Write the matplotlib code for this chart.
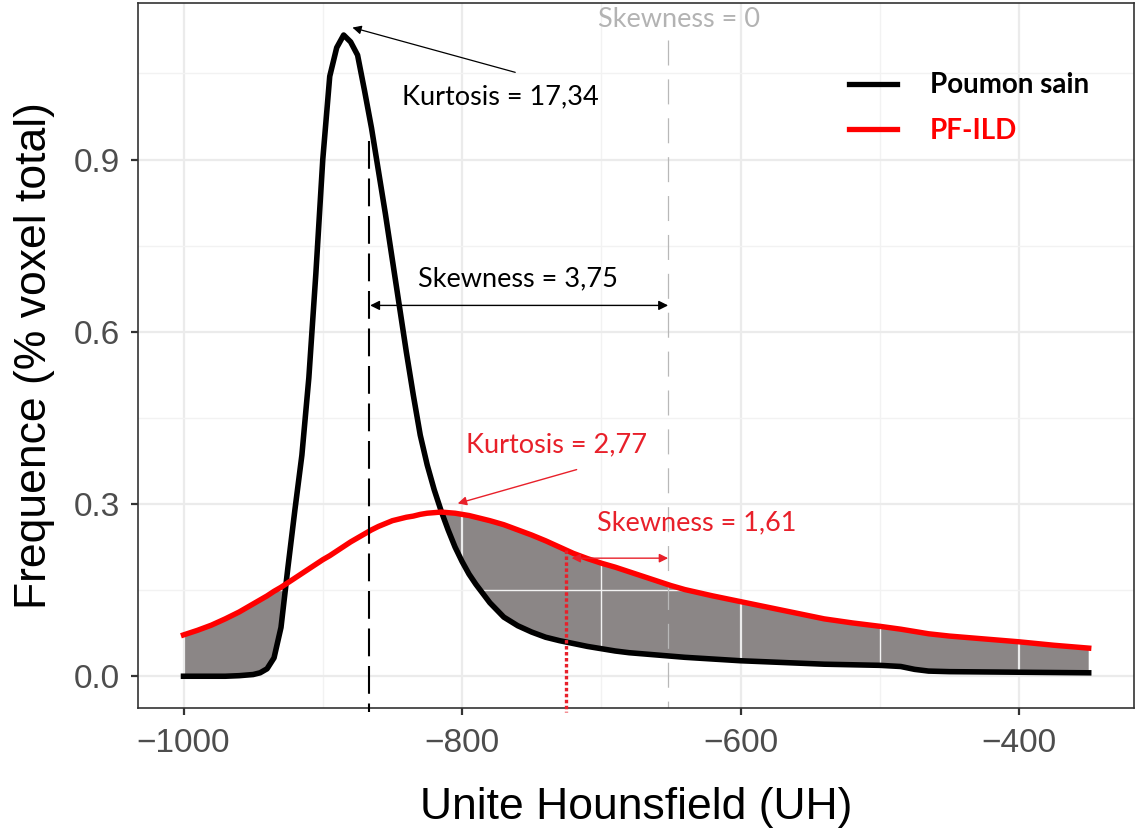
import numpy as np
import matplotlib.pyplot as plt
from matplotlib.lines import Line2D

plt.rcParams['lines.scale_dashes'] = False

# Unites Hounsfield (grille commune aux deux courbes)
hu = [-1000, -990, -980, -970, -960, -955, -950, -945, -940, -935,
      -930, -925, -920, -915, -910, -905, -900, -895, -890, -885,
      -880, -875, -870, -865, -860, -855, -850, -845, -840, -835,
      -830, -825, -820, -815, -810, -805, -800, -795, -790, -780,
      -770, -760, -750, -740, -730, -720, -710, -700, -690, -680,
      -670, -660, -650, -640, -620, -600, -580, -560, -540, -520,
      -500, -485, -475, -465, -450, -425, -400, -375, -350]

# frequence (% voxel total) - poumon sain
poumon_sain = [0.000, 0.000, 0.000, 0.000, 0.001, 0.002, 0.003, 0.006, 0.013, 0.032,
               0.085, 0.190, 0.290, 0.385, 0.520, 0.700, 0.900, 1.045, 1.095, 1.117,
               1.105, 1.082, 1.020, 0.955, 0.880, 0.805, 0.725, 0.645, 0.565, 0.490,
               0.420, 0.368, 0.325, 0.288, 0.255, 0.225, 0.200, 0.178, 0.160, 0.128,
               0.103, 0.088, 0.077, 0.068, 0.062, 0.057, 0.052, 0.048, 0.044, 0.041,
               0.039, 0.037, 0.035, 0.033, 0.030, 0.027, 0.025, 0.023, 0.021, 0.020,
               0.019, 0.017, 0.012, 0.009, 0.008, 0.0075, 0.007, 0.0065, 0.006]

# frequence (% voxel total) - PF-ILD
pf_ild = [0.072, 0.080, 0.089, 0.100, 0.112, 0.119, 0.126, 0.133, 0.140, 0.148,
          0.155, 0.163, 0.171, 0.179, 0.187, 0.195, 0.203, 0.210, 0.218, 0.226,
          0.234, 0.241, 0.248, 0.255, 0.261, 0.266, 0.271, 0.274, 0.277, 0.279,
          0.282, 0.284, 0.285, 0.286, 0.285, 0.284, 0.282, 0.280, 0.277, 0.271,
          0.264, 0.255, 0.246, 0.236, 0.225, 0.214, 0.205, 0.197, 0.190, 0.182,
          0.174, 0.166, 0.158, 0.151, 0.140, 0.130, 0.120, 0.110, 0.100, 0.093,
          0.087, 0.082, 0.078, 0.074, 0.070, 0.065, 0.060, 0.054, 0.049]

x_ticks = [-1000, -800, -600, -400]
y_ticks = [0.0, 0.3, 0.6, 0.9]

# positions des reperes (moyennes / skewness 0)
x_mean_sain = -867
x_mean_pf = -725
x_skew0 = -652

RED = '#e8202a'
ANNOT_FONT = 'Lato'
AXIS_FONT = 'Liberation Sans'
ANNOT_SIZE = 19.5

x = np.array(hu)
y1 = np.array(poumon_sain)
y2 = np.array(pf_ild)

fig = plt.figure(figsize=(11.36, 8.32), dpi=100)
ax = fig.add_axes([0.1217, 0.1487, 0.8765, 0.8477])

ax.fill_between(x, y1, y2, where=y2 >= y1, interpolate=True,
                color='#8b8686', lw=0, zorder=1)
ax.plot(x, y1, color='black', lw=4.0, zorder=3)
ax.plot(x, y2, color='red', lw=3.9, zorder=3)

# lignes verticales
ax.plot([x_mean_sain, x_mean_sain], [0.932, -0.063], color='black', lw=1.5,
        dashes=(20, 7), clip_on=False, zorder=4)
ax.plot([x_skew0, x_skew0], [1.109, -0.055], color='#b8b8b8', lw=0.9,
        dashes=(18, 10), zorder=2)
ax.plot([x_mean_pf, x_mean_pf], [0.22, -0.062], color=RED, lw=2.4,
        dashes=(2.5, 1.8), clip_on=False, zorder=4)

# fleches + textes
ax.annotate('', xy=(x_skew0, 0.646), xytext=(x_mean_sain + 1, 0.646),
            arrowprops=dict(arrowstyle='<|-|>', color='black', lw=1,
                            shrinkA=0, shrinkB=0, mutation_scale=14))
ax.text(-759.5, 0.692, 'Skewness = 3,75', ha='center', va='center',
        fontsize=ANNOT_SIZE, family=ANNOT_FONT)

ax.annotate('', xy=(-878.7, 1.130), xytext=(-761.8, 1.052),
            arrowprops=dict(arrowstyle='-|>', color='black', lw=0.9,
                            shrinkA=0, shrinkB=0, mutation_scale=13))
ax.text(-772.5, 1.009, 'Kurtosis = 17,34', ha='center', va='center',
        fontsize=ANNOT_SIZE, family=ANNOT_FONT)

ax.annotate('', xy=(-803.1, 0.301), xytext=(-717.7, 0.360),
            arrowprops=dict(arrowstyle='-|>', color=RED, lw=1,
                            shrinkA=0, shrinkB=0, mutation_scale=13))
ax.text(-732, 0.4025, 'Kurtosis = 2,77', ha='center', va='center',
        fontsize=ANNOT_SIZE, family=ANNOT_FONT, color=RED)

ax.annotate('', xy=(x_skew0, 0.2057), xytext=(-721.3, 0.2057),
            arrowprops=dict(arrowstyle='<|-|>', color=RED, lw=1,
                            shrinkA=0, shrinkB=0, mutation_scale=13))
ax.text(-631.8, 0.2665, 'Skewness = 1,61', ha='center', va='center',
        fontsize=ANNOT_SIZE, family=ANNOT_FONT, color=RED)

ax.text(-644.5, 1.144, 'Skewness = 0', ha='center', va='center',
        fontsize=ANNOT_SIZE, family=ANNOT_FONT, color='#b3b3b3')

# legende
handles = [Line2D([], [], color='black', lw=3.8),
           Line2D([], [], color='red', lw=3.8)]
leg = ax.legend(handles, ['Poumon sain', 'PF-ILD'], loc='upper left',
                bbox_to_anchor=(0.7143, 0.9016), frameon=False, borderpad=0,
                borderaxespad=0, handlelength=1.7, handletextpad=1.2,
                labelspacing=0.7,
                prop=dict(family=ANNOT_FONT, weight='bold', size=20))
leg.get_texts()[1].set_color('red')

# axes
ax.set_xlim(-1032.5, -317.5)
ax.set_ylim(-0.0558, 1.1728)
ax.set_xticks(x_ticks)
ax.set_xticks([-900, -700, -500], minor=True)
ax.set_yticks(y_ticks)
ax.set_yticks([0.15, 0.45, 0.75, 1.05], minor=True)
ax.set_yticklabels(['%.1f' % v for v in y_ticks])
ax.grid(which='major', color='#ebebeb', lw=1.6)
ax.grid(which='minor', color='#f2f2f2', lw=1.0)
ax.set_axisbelow('line')
ax.tick_params(which='major', length=5, width=1.6, color='#333333',
               labelsize=24, labelcolor='#4d4d4d')
ax.tick_params(axis='x', which='major', pad=9)
ax.tick_params(axis='y', which='major', pad=8)
ax.tick_params(which='minor', length=0)
for lab in ax.get_xticklabels() + ax.get_yticklabels():
    lab.set_family(AXIS_FONT)
for s in ax.spines.values():
    s.set_color('#333333')
    s.set_linewidth(1.2)

ax.set_xlabel('Unite Hounsfield (UH)', fontsize=32, family=AXIS_FONT, labelpad=20)
ax.set_ylabel('Frequence (% voxel total)', fontsize=32, family=AXIS_FONT, labelpad=14)

fig.savefig('out.png', dpi=100)
